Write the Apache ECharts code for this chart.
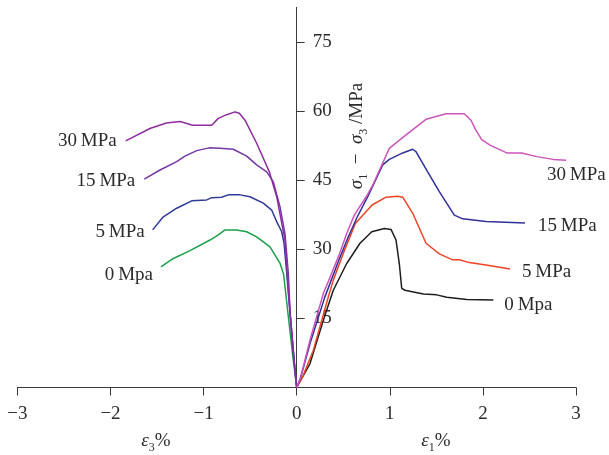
<!DOCTYPE html>
<html>
<head>
<meta charset="utf-8">
<script src="https://cdn.jsdelivr.net/npm/echarts@6/dist/echarts.min.js"></script>
<style>
  html, body { margin: 0; padding: 0; background: #fff; }
  #chart { width: 609px; height: 455px; }
</style>
</head>
<body>
<div id="chart"></div>
<script>
// x = strain (%), negative side is ε3, positive side is ε1; y = σ1 − σ3 (MPa)
var xTicks = [-3, -2, -1, 0, 1, 2, 3];
var yTicks = [15, 30, 45, 60, 75];

var left30 = [[0, 0], [-0.018, 3.8], [-0.07, 16], [-0.1, 24], [-0.126, 32.0], [-0.215, 41.4], [-0.294, 46.8], [-0.43, 53.0], [-0.555, 58.0], [-0.616, 59.5], [-0.663, 59.8], [-0.752, 59.2], [-0.842, 58.4], [-0.913, 56.9], [-1.117, 56.9], [-1.253, 57.7], [-1.40, 57.4], [-1.576, 56.2], [-1.837, 53.5]];
var left15 = [[0, 0], [-0.018, 3.8], [-0.07, 16], [-0.09, 24.8], [-0.126, 33.4], [-0.179, 39.2], [-0.251, 44.6], [-0.322, 46.8], [-0.43, 48.3], [-0.537, 50.2], [-0.681, 51.7], [-0.824, 51.9], [-0.942, 52.0], [-1.074, 51.4], [-1.2, 50.2], [-1.289, 49.0], [-1.468, 47.2], [-1.637, 45.2]];
var left5 = [[0, 0], [-0.03, 6], [-0.08, 18], [-0.107, 24.8], [-0.136, 31.3], [-0.161, 33.8], [-0.215, 36.0], [-0.269, 38.5], [-0.359, 40.0], [-0.502, 41.4], [-0.609, 41.8], [-0.735, 41.8], [-0.806, 41.3], [-0.913, 41.2], [-0.967, 40.7], [-1.128, 40.5], [-1.289, 38.9], [-1.44, 36.9], [-1.547, 34.2]];
var left0 = [[0, 0], [-0.037, 6], [-0.09, 15.4], [-0.14, 24.5], [-0.18, 27.0], [-0.287, 30.5], [-0.43, 32.7], [-0.537, 33.8], [-0.644, 34.2], [-0.77, 34.2], [-0.842, 33.1], [-0.931, 32.0], [-1.146, 29.7], [-1.325, 28.0], [-1.458, 26.2]];

var right30 = [[0, 0], [0.04, 2], [0.143, 10.3], [0.286, 20.4], [0.37, 24.5], [0.46, 29], [0.537, 33.4], [0.619, 37.4], [0.75, 41.5], [0.816, 43.9], [0.995, 51.9], [1.174, 54.8], [1.389, 58.2], [1.604, 59.4], [1.80, 59.4], [1.872, 58.0], [1.92, 56], [1.987, 53.8], [2.076, 52.6], [2.256, 50.9], [2.417, 50.9], [2.578, 50.1], [2.756, 49.5], [2.893, 49.3]];
var right15 = [[0, 0], [0.04, 2], [0.15, 10], [0.3, 19.5], [0.45, 27.5], [0.55, 32.5], [0.65, 37], [0.763, 41.4], [0.924, 48.3], [0.995, 49.5], [1.139, 50.9], [1.246, 51.7], [1.281, 51.2], [1.407, 46.8], [1.532, 42.5], [1.693, 37.4], [1.783, 36.6], [2.033, 36.0], [2.452, 35.7]];
var right5 = [[0, 0], [0.071, 2.7], [0.179, 8.1], [0.25, 13.2], [0.34, 19.7], [0.393, 23.3], [0.5, 29.1], [0.63, 35.6], [0.81, 39.6], [0.959, 41.3], [1.085, 41.5], [1.139, 41.3], [1.246, 37.8], [1.389, 31.3], [1.532, 29.0], [1.676, 27.7], [1.747, 27.7], [1.854, 27.1], [2.033, 26.6], [2.291, 25.7]];
var right0 = [[0, 0], [0.143, 5.2], [0.286, 14.6], [0.393, 21.1], [0.537, 26.9], [0.68, 31.3], [0.806, 33.8], [0.941, 34.5], [1.013, 34.3], [1.067, 32.0], [1.102, 26.9], [1.128, 21.5], [1.163, 21.1], [1.36, 20.3], [1.504, 20.1], [1.611, 19.6], [1.826, 19.1], [2.112, 19.0]];

var FONT = '"Liberation Serif", "DejaVu Serif", serif';
var TXT = '#2b2b2b';
var FS = 19;

// line with a text label hung on its last point
function curve(name, pts, color, labelPos, distance, offset) {
    var data = pts.map(function (p, i) {
        if (i < pts.length - 1) return p;
        return {
            value: p,
            label: {
                show: true,
                position: labelPos,
                distance: distance,
                offset: offset,
                formatter: name,
                color: TXT,
                fontFamily: FONT,
                fontSize: FS
            }
        };
    });
    return {
        name: name,
        type: 'line',
        data: data,
        symbol: 'circle',
        symbolSize: 0,
        showSymbol: true,
        silent: true,
        lineStyle: { color: color, width: 1.5 },
        itemStyle: { color: color, borderWidth: 0 },
        label: { show: false }
    };
}

var richSub = {
    i: { fontFamily: FONT, fontSize: FS, fontStyle: 'italic', lineHeight: 26 },
    s: { fontFamily: FONT, fontSize: 12, verticalAlign: 'bottom', lineHeight: 12 },
    n: { fontFamily: FONT, fontSize: FS, lineHeight: 26 }
};

var chart = echarts.init(document.getElementById('chart'));
var option = {
    animation: false,
    backgroundColor: '#fff',
    grid: { left: 17.4, right: 33, top: 7.3, bottom: 67.5 },
    xAxis: {
        type: 'value',
        min: -3,
        max: 3,
        interval: 1,
        splitLine: { show: false },
        axisLine: { lineStyle: { color: '#3a3a3a', width: 1 } },
        axisTick: { length: 8, lineStyle: { color: '#3a3a3a' }, customValues: xTicks },
        axisLabel: {
            customValues: xTicks,
            margin: 17,
            color: TXT,
            fontFamily: FONT,
            fontSize: FS,
            formatter: function (v) { return v < 0 ? '\u2212' + (-v) : String(v); }
        }
    },
    yAxis: {
        type: 'value',
        min: 0,
        max: 82.5,
        offset: -279.3,
        splitLine: { show: false },
        axisLine: { onZero: false, lineStyle: { color: '#3a3a3a', width: 1 } },
        axisTick: { inside: true, length: 8, lineStyle: { color: '#3a3a3a' }, customValues: yTicks },
        axisLabel: {
            inside: true,
            customValues: yTicks,
            margin: 16,
            color: TXT,
            fontFamily: FONT,
            fontSize: FS
        }
    },
    graphic: [
        {
            type: 'text', x: 156, y: 441, silent: true,
            style: {
                text: '{i|ε}{s|3}{n|%}',
                align: 'center', verticalAlign: 'middle',
                fill: TXT, font: FS + 'px ' + FONT,
                rich: richSub
            }
        },
        {
            type: 'text', x: 436, y: 441, silent: true,
            style: {
                text: '{i|ε}{s|1}{n|%}',
                align: 'center', verticalAlign: 'middle',
                fill: TXT, font: FS + 'px ' + FONT,
                rich: richSub
            }
        },
        {
            type: 'text', x: 357, y: 136, rotation: Math.PI / 2, silent: true,
            style: {
                text: '{i|σ}{s|1}{n|  \u2212  }{i|σ}{s|3}{n| /MPa}',
                align: 'center', verticalAlign: 'middle',
                fill: TXT, font: FS + 'px ' + FONT,
                rich: richSub
            }
        }
    ],
    series: [
        curve('0\u2009Mpa', left0, '#1BA04B', 'left', 8, [0, 8]),
        curve('5\u2009MPa', left5, '#2F3A99', 'left', 8, [0, 2]),
        curve('15\u2009MPa', left15, '#7538A8', 'left', 9, [0, 2]),
        curve('30\u2009MPa', left30, '#8E2D9F', 'left', 9, [0, 0]),
        curve('0\u2009Mpa', right0, '#1E1E1E', 'right', 11, [0, 5]),
        curve('5\u2009MPa', right5, '#EE4425', 'right', 12, [0, 3]),
        curve('15\u2009MPa', right15, '#30309A', 'right', 13, [0, 3]),
        curve('30\u2009MPa', right30, '#CC55BB', 'right', 0, [-19, 15])
    ]
};
chart.setOption(option);
</script>
</body>
</html>
